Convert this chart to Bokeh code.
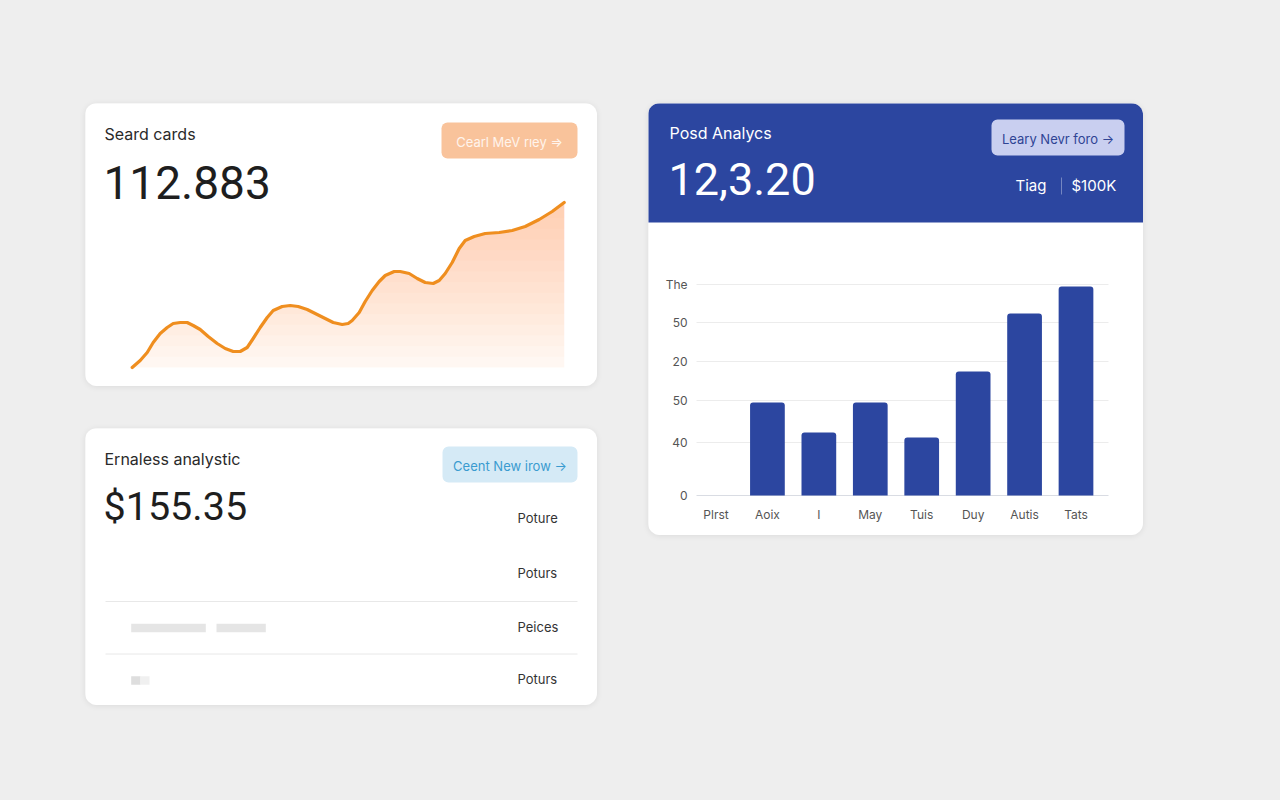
import numpy as np
from bokeh.plotting import figure
from bokeh.models import Range1d, FixedTicker, Spacer, LinearAxis
from bokeh.layouts import column, row
from bokeh.core.properties import value
from bokeh.embed import file_html
from bokeh.resources import INLINE

# ---------------- data ----------------
# "Seard cards" trend line
trend_x = [0, 8, 15, 21, 28, 35, 41, 48, 55, 61, 68, 76, 85, 93, 101, 108, 115, 121, 128, 135,
           141, 150, 158, 166, 175, 183, 193, 201, 210, 216, 220, 227, 233, 240, 247, 253, 262,
           268, 277, 285, 293, 301, 307, 313, 320, 327, 333, 342, 353, 367, 380, 393, 407, 420,
           432]
trend_y = [0, 7, 15, 25, 34, 40, 44, 45, 45, 42, 38, 31, 24, 19, 16, 16, 20, 29, 40, 50,
           57, 61, 62, 61, 58, 54, 49, 45, 43, 44, 47, 55, 66, 77, 86, 92, 96,
           96, 94, 89, 85, 84, 87, 94, 105, 119, 127, 131, 134, 135, 137, 141, 148, 156,
           165]

# "Posd Analycs" bar chart
bar_categories = ["Plrst", "Aoix", "I", "May", "Tuis", "Duy", "Autis", "Tats"]
bar_values = [0, 93, 63, 93, 58, 124, 182, 209]
y_tick_values = [0, 53, 95, 134, 173, 211]
y_tick_labels = ["0", "40", "50", "20", "50", "The"]

# "Ernaless analystic" list
list_labels = ["Poture", "Poturs", "Peices", "Poturs"]

# ---------------- styles ----------------
PAGE_BG = "#eeeeee"
BLUE = "#2c46a0"
ORANGE = "#ef8e1f"
SANS = "Inter"
NUM = "Roboto"
CARD = {"border-radius": "12px", "box-shadow": "0 1px 6px rgba(0,0,0,0.08)",
        "overflow": "hidden"}


def canvas(w, h, fill="#ffffff"):
    p = figure(width=w, height=h, x_range=Range1d(0, w), y_range=Range1d(h, 0),
               output_backend="svg", toolbar_location=None, min_border=0,
               x_axis_location=None, y_axis_location=None,
               background_fill_color=fill, border_fill_color=fill, outline_line_color=None,
               styles=CARD)
    p.grid.visible = False
    return p


def txt(p, x, y, s, size, color, font=SANS, align="left", baseline="middle", alpha=1.0):
    p.text(x=[x], y=[y], text=[s], text_font=value(font), text_font_size=value(f"{size}px"),
           text_color=color, text_align=align, text_baseline=baseline, text_alpha=alpha)


def button(p, l, r, t, b, fill, label, color):
    p.quad(left=[l], right=[r], top=[t], bottom=[b], fill_color=fill, line_color=None,
           border_radius=6)
    txt(p, (l + r) / 2, (t + b) / 2 + 1, label, 13, color, align="center")


# ---------------- card A : Seard cards ----------------
figA = canvas(512, 283)
figA.extra_x_ranges = {"tx": Range1d(-46.7, 465.3)}
figA.extra_y_ranges = {"ty": Range1d(-19, 264)}
tx = np.array(trend_x, dtype=float)
ty = np.array(trend_y, dtype=float)
figA.varea(x=tx, y1=np.zeros_like(ty), y2=ty, fill_color="#f6a25a", fill_alpha=0.05,
           x_range_name="tx", y_range_name="ty")
for lvl in np.linspace(0, 160, 16):
    figA.varea(x=tx, y1=np.full_like(ty, lvl), y2=np.maximum(ty, lvl),
               fill_color="#f6a25a", fill_alpha=0.026, x_range_name="tx", y_range_name="ty")
figA.line(tx, ty, line_color=ORANGE, line_width=3.2, line_join="round", line_cap="round",
          x_range_name="tx", y_range_name="ty")
txt(figA, 19, 30, "Seard cards", 16, "#2a2a2a")
txt(figA, 18, 78.5, "112.883", 46, "#1e1e1e", font=NUM)
button(figA, 356, 492, 19, 55, "#f9c39b", "Cearl MeV rıey =>", "#fff4ec")

# ---------------- card B : Ernaless analystic ----------------
figB = canvas(512, 277)
txt(figB, 19, 30, "Ernaless analystic", 16, "#2a2a2a")
txt(figB, 18, 78, "$155.35", 39.5, "#1e1e1e", font=NUM)
button(figB, 357, 492, 18, 54, "#d5eaf6", "Ceent New irow \u2192", "#3a9bd0")
for lbl, yy in zip(list_labels, [89, 144, 198, 250]):
    txt(figB, 432, yy, lbl, 13, "#333333")
figB.segment(x0=[20, 20], y0=[173, 225.5], x1=[492, 492], y1=[173, 225.5],
             line_color="#e8e8e8", line_width=1)
figB.quad(left=[45.7, 131], right=[120.3, 180.3], top=[195.3, 195.3], bottom=[203.7, 203.7],
          fill_color="#e5e5e5", line_color=None)
figB.quad(left=[45.7, 55], right=[55, 64], top=[247.7, 247.7], bottom=[256.3, 256.3],
          fill_color=["#dedede", "#f0f0f0"], line_color=None)

# ---------------- card C : Posd Analycs ----------------
figC = canvas(495, 432)
bar_pos = list(range(len(bar_categories)))          # category slots
figC.extra_x_ranges = {"bx": Range1d(-1.3125, len(bar_categories) - 1 + 1.3125)}
figC.extra_y_ranges = {"by": Range1d(-40, 392)}

# header band
figC.quad(left=[-2], right=[497], top=[-2], bottom=[119], fill_color=BLUE, line_color=None)
txt(figC, 21, 29, "Posd Analycs", 16, "#ffffff")
txt(figC, 20, 75, "12,3.20", 45, "#ffffff", font=NUM)
button(figC, 343, 476, 16, 52, "#c9cff0", "Leary Nevr foro \u2192", "#2f4494")
txt(figC, 367, 82, "Tiag", 15, "#ffffff")
figC.segment(x0=[413], y0=[74], x1=[413], y1=[91], line_color="#ffffff", line_alpha=0.35)
txt(figC, 423, 82, "$100K", 15, "#ffffff")

# grid lines at the tick values
grid_colors = ["#d9dce3" if v == 0 else "#ececec" for v in y_tick_values]
figC.segment(x0=[48] * len(y_tick_values), x1=[460] * len(y_tick_values),
             y0=y_tick_values, y1=y_tick_values, line_color=grid_colors, line_width=1,
             y_range_name="by")

# bars
figC.vbar(x=bar_pos, top=bar_values, width=0.675, fill_color=BLUE, line_color=None,
          border_radius=(3, 3, 0, 0), x_range_name="bx", y_range_name="by")

yax = LinearAxis(y_range_name="by", ticker=FixedTicker(ticks=y_tick_values), fixed_location=45)
yax.major_label_overrides = {v: l for v, l in zip(y_tick_values, y_tick_labels)}
xax = LinearAxis(x_range_name="bx", ticker=FixedTicker(ticks=bar_pos), fixed_location=392)
xax.major_label_overrides = {i: c for i, c in zip(bar_pos, bar_categories)}
for ax in (xax, yax):
    ax.axis_line_color = None
    ax.major_tick_line_color = None
    ax.minor_tick_line_color = None
    ax.major_tick_out = 0
    ax.major_tick_in = 0
    ax.major_label_text_font = SANS
    ax.major_label_text_font_size = "12px"
    ax.major_label_text_color = "#555555"
yax.major_label_standoff = 6
xax.major_label_standoff = 11
figC.add_layout(yax, "left")
figC.add_layout(xax, "below")

# ---------------- page layout ----------------
left_col = column(figA, Spacer(width=512, height=42), figB)
body = row(Spacer(width=85, height=10), left_col, Spacer(width=51, height=10), figC)
root = column(Spacer(width=1264, height=103), body, width=1264, height=784,
              sizing_mode="fixed", styles={"background-color": PAGE_BG})

html = file_html(root, INLINE, title="Dashboard")
html = html.replace("<body>", '<body style="background-color:#eeeeee;">')
open("out.html", "w").write(html)
